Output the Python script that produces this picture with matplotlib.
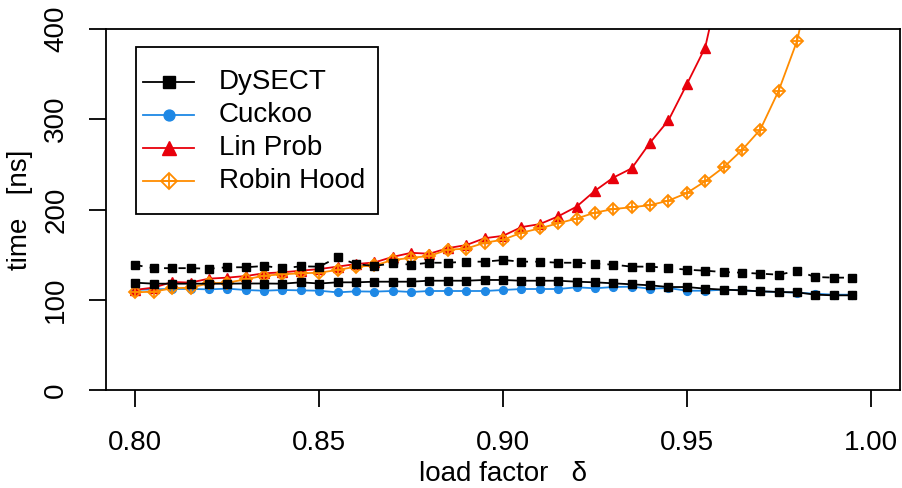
import matplotlib
matplotlib.use("Agg")
import matplotlib.pyplot as plt
from matplotlib.lines import Line2D
from matplotlib.patches import Rectangle

plt.rcParams['font.family'] = ['Liberation Sans', 'DejaVu Sans']

# load factor grid (0.800 .. 0.995 in steps of 0.005)
load = [0.800, 0.805, 0.810, 0.815, 0.820, 0.825, 0.830, 0.835, 0.840, 0.845,
        0.850, 0.855, 0.860, 0.865, 0.870, 0.875, 0.880, 0.885, 0.890, 0.895,
        0.900, 0.905, 0.910, 0.915, 0.920, 0.925, 0.930, 0.935, 0.940, 0.945,
        0.950, 0.955, 0.960, 0.965, 0.970, 0.975, 0.980, 0.985, 0.990, 0.995]

dysect = [118.9, 117.8, 117.8, 117.8, 117.8, 117.8, 118.0, 118.0, 117.8, 119.3,
          118.0, 119.3, 119.3, 120.0, 120.0, 120.0, 121.1, 121.1, 121.1, 121.9,
          121.9, 121.1, 121.1, 121.1, 120.0, 119.3, 118.2, 117.1, 116.0, 114.1,
          114.1, 112.3, 111.2, 110.4, 109.3, 108.6, 108.2, 105.6, 104.9, 104.9]

dysect_dashed = [138.5, 135.0, 135.0, 135.0, 134.4, 136.0, 136.0, 137.4, 135.0, 137.0,
                 136.7, 147.0, 139.6, 137.4, 140.4, 138.9, 141.0, 141.0, 142.2, 142.2,
                 144.0, 142.2, 142.2, 141.0, 141.0, 140.0, 138.9, 136.7, 136.7, 135.2,
                 133.3, 132.2, 130.7, 130.0, 128.9, 127.8, 131.9, 125.2, 124.5, 124.5]

cuckoo = [111.0, 111.5, 112.0, 112.0, 111.5, 112.3, 110.8, 110.0, 110.8, 110.4,
          110.0, 108.2, 109.3, 109.0, 109.7, 108.6, 109.7, 109.7, 109.7, 109.7,
          110.8, 111.9, 111.9, 111.9, 113.8, 112.7, 114.1, 114.5, 112.3, 113.0,
          110.0, 110.0, 111.2, 110.4, 109.3, 108.6, 107.8, 106.7, 105.6, 105.6]

linprob = [111.0, 113.5, 119.7, 119.0, 123.4, 124.5, 126.3, 129.3, 130.4, 132.2,
           134.0, 136.7, 139.6, 141.3, 147.5, 152.0, 151.0, 157.2, 160.6, 168.2,
           170.8, 180.5, 183.8, 192.4, 203.1, 220.7, 235.3, 245.6, 274.0, 298.7,
           338.7, 379.5, 470.0]

robinhood = [108.2, 109.0, 112.7, 113.4, 118.2, 118.9, 122.6, 126.7, 128.2, 129.3,
             130.0, 133.0, 136.6, 138.0, 144.0, 146.5, 148.5, 155.5, 156.6, 163.2,
             166.5, 174.2, 179.1, 184.7, 190.0, 196.5, 200.5, 202.5, 204.8, 209.8,
             218.2, 231.3, 246.7, 265.8, 288.6, 331.7, 386.8, 480.0]

names = ['DySECT', 'Cuckoo', 'Lin Prob', 'Robin Hood']

BLUE = '#1E88E5'
RED = '#E8000B'
ORANGE = '#FF8C00'

W, H = 902, 488
fig = plt.figure(figsize=(W / 100, H / 100), dpi=100)
ax = fig.add_axes([106 / W, 1 - 390 / H, 794 / W, 361 / H])

lw = 1.3
sq = dict(marker='s', ms=6.2, mec='black', mfc='black')
ci = dict(marker='o', ms=5.6, mec=BLUE, mfc=BLUE)
tr = dict(marker='^', ms=7.0, mec=RED, mfc=RED)
di = dict(marker='D', ms=5.8, mec=ORANGE, mfc='none', mew=1.3)
pl = dict(marker='+', ms=8.0, mec=ORANGE, mew=1.3)

ax.plot(load, cuckoo, color=BLUE, lw=lw, **ci)
ax.plot(load[:len(linprob)], linprob, color=RED, lw=lw, **tr)
ax.plot(load[:len(robinhood)], robinhood, color=ORANGE, lw=lw, **di)
ax.plot(load[:len(robinhood)], robinhood, ls='none', **pl)
ax.plot(load, dysect_dashed, color='black', lw=lw, ls=(0, (4, 4)), **sq)
ax.plot(load, dysect, color='black', lw=lw, **sq)

ax.set_xlim(0.792, 1.008)
ax.set_ylim(0, 400)
ax.set_xticks([0.80, 0.85, 0.90, 0.95, 1.00])
ax.set_xticklabels(['0.80', '0.85', '0.90', '0.95', '1.00'])
ax.set_yticks([0, 100, 200, 300, 400])

for sp in ax.spines.values():
    sp.set_linewidth(1.3)
ax.tick_params(axis='both', length=12.5, width=1.3, labelsize=20, direction='out')
ax.tick_params(axis='x', pad=16)
ax.tick_params(axis='y', pad=14, labelrotation=90)
for lab in ax.get_yticklabels():
    lab.set_va('center')

ax.set_xlabel('load factor   \u03b4', fontsize=20)
ax.xaxis.set_label_coords(0.5, -0.233)
ax.xaxis.label.set_va('center')
ax.set_ylabel('time   [ns]', fontsize=20)
ax.yaxis.set_label_coords(-0.108, 0.5)
ax.yaxis.label.set_va('center')

# legend drawn by hand, R style
def fx(px):
    return px / W

def fy(py):
    return 1 - py / H

fig.patches.append(Rectangle((fx(136), fy(214)), fx(378) - fx(136), fy(47) - fy(214),
                             transform=fig.transFigure, fill=False,
                             edgecolor='black', lw=1.3))
rows = [81.7, 115, 147.7, 181]
styles = [('black', [sq]), (BLUE, [ci]), (RED, [tr]), (ORANGE, [di, pl])]
for (col, marks), name, ry in zip(styles, names, rows):
    fig.lines.append(Line2D([fx(143), fx(194)], [fy(ry), fy(ry)], color=col, lw=lw,
                            transform=fig.transFigure))
    for m in marks:
        m2 = dict(m)
        m2['ms'] = m2['ms'] * 1.4
        fig.lines.append(Line2D([fx(168.5)], [fy(ry)], ls='none',
                                transform=fig.transFigure, **m2))
    fig.text(fx(219), fy(ry), name, fontsize=20, va='center', ha='left')

fig.savefig('out.png', dpi=100, facecolor='white')
